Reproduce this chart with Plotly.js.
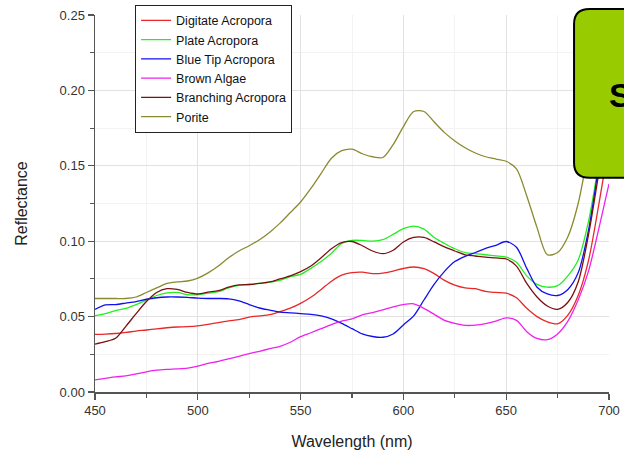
<!DOCTYPE html>
<html>
<head>
<meta charset="utf-8">
<script src="https://cdn.plot.ly/plotly-3.0.1.min.js"></script>
<style>html,body{margin:0;padding:0;background:#fff;}#chart{width:624px;height:454px;}</style>
</head>
<body>
<div id="chart"></div>
<script>
const wavelength = [450,455,460,465,470,475,480,485,490,495,500,505,510,515,520,525,530,535,540,545,550,555,560,565,570,575,580,585,590,595,600,605,610,615,620,625,630,635,640,645,650,655,660,665,670,675,680,685,690,695,700];

const digitateAcropora = [0.0382,0.0384,0.0388,0.0395,0.0404,0.0411,0.0419,0.0426,0.0431,0.0433,0.0438,0.0448,0.046,0.0472,0.048,0.0497,0.0505,0.0513,0.0533,0.0556,0.0588,0.0628,0.068,0.0735,0.0775,0.0792,0.0795,0.0785,0.0788,0.0802,0.0819,0.0829,0.0818,0.0785,0.074,0.0708,0.069,0.0685,0.0667,0.066,0.0655,0.0625,0.0555,0.050,0.0465,0.0452,0.051,0.064,0.087,0.124,0.165];

const plateAcropora = [0.0506,0.052,0.054,0.0555,0.058,0.061,0.064,0.0658,0.066,0.0645,0.0645,0.0655,0.0665,0.069,0.0707,0.0713,0.072,0.0728,0.074,0.0765,0.078,0.082,0.0865,0.092,0.0985,0.1005,0.1005,0.100,0.101,0.1045,0.1083,0.110,0.108,0.1025,0.0985,0.095,0.0925,0.0918,0.091,0.0903,0.0895,0.086,0.077,0.0714,0.0695,0.0705,0.077,0.0875,0.113,0.152,0.20];

const blueTipAcropora = [0.0548,0.0577,0.058,0.059,0.060,0.0615,0.0625,0.063,0.063,0.0628,0.0622,0.062,0.062,0.0618,0.0605,0.058,0.0557,0.0543,0.053,0.0525,0.052,0.0515,0.0505,0.0485,0.0455,0.042,0.0385,0.0368,0.0363,0.0385,0.0445,0.0505,0.061,0.0715,0.080,0.0865,0.090,0.0925,0.0952,0.0973,0.0998,0.096,0.082,0.0695,0.065,0.064,0.068,0.079,0.107,0.15,0.20];

const brownAlgae = [0.008,0.009,0.010,0.0107,0.012,0.0134,0.0145,0.015,0.0153,0.0158,0.0172,0.019,0.0203,0.022,0.0237,0.0254,0.027,0.0287,0.0303,0.033,0.0367,0.0393,0.042,0.0447,0.047,0.0485,0.0512,0.0527,0.0545,0.0565,0.058,0.0585,0.0555,0.0515,0.0475,0.0455,0.0442,0.0443,0.0453,0.047,0.0491,0.0475,0.040,0.0355,0.0347,0.0385,0.047,0.061,0.080,0.108,0.138];

const branchingAcropora = [0.0318,0.0334,0.0356,0.0435,0.052,0.060,0.066,0.0685,0.068,0.066,0.065,0.0662,0.0672,0.0695,0.071,0.0713,0.072,0.073,0.075,0.077,0.0798,0.0835,0.089,0.095,0.099,0.0998,0.097,0.0935,0.0917,0.094,0.0995,0.1025,0.1025,0.0995,0.0962,0.0935,0.091,0.0902,0.0894,0.0889,0.0882,0.0835,0.072,0.063,0.057,0.0548,0.0595,0.073,0.104,0.145,0.19];

const porite = [0.062,0.062,0.062,0.062,0.063,0.066,0.069,0.072,0.073,0.0736,0.0755,0.079,0.0836,0.089,0.0935,0.097,0.101,0.106,0.112,0.119,0.126,0.135,0.145,0.155,0.160,0.161,0.158,0.156,0.1555,0.164,0.176,0.186,0.186,0.179,0.172,0.1665,0.162,0.1585,0.156,0.1545,0.153,0.148,0.130,0.109,0.091,0.0925,0.103,0.125,0.160,0.195,0.230];

const seriesNames = ["Digitate Acropora","Plate Acropora","Blue Tip Acropora","Brown Algae","Branching Acropora","Porite"];
const seriesValues = [digitateAcropora, plateAcropora, blueTipAcropora, brownAlgae, branchingAcropora, porite];
const seriesColors = ["#e82828","#22ee22","#1111ee","#ee22ee","#7a1010","#8a8a30"];

const traces = seriesNames.map((n, i) => ({
  x: wavelength, y: seriesValues[i], name: n, type: "scatter", mode: "lines",
  line: {color: seriesColors[i], width: 1.3, shape: "spline", smoothing: 0.8}
}));

const x0 = 0.932, x1 = 1.06, y0 = 0.568, y1 = 1.016, rx = 0.03, ry = 0.04;
const boxPath = `M ${x0+rx},${y1} L ${x1},${y1} L ${x1},${y0} L ${x0+rx},${y0} Q ${x0},${y0} ${x0},${y0+ry} L ${x0},${y1-ry} Q ${x0},${y1} ${x0+rx},${y1} Z`;

const axisFont = {family: "Arial, Liberation Sans, sans-serif", size: 13, color: "#333"};
const layout = {
  width: 624, height: 454,
  margin: {l: 95, r: 15, t: 15, b: 62, autoexpand: false},
  paper_bgcolor: "#fff", plot_bgcolor: "#fff",
  showlegend: true,
  legend: {x: 0.078, y: 1.027, xanchor: "left", yanchor: "top", bgcolor: "#fff",
           bordercolor: "#222", borderwidth: 1,
           font: {family: "Arial, Liberation Sans, sans-serif", size: 12.5, color: "#111"},
           tracegroupgap: 0},
  xaxis: {range: [450, 700], dtick: 50, tick0: 450, ticks: "outside", ticklen: 6, tickwidth: 1.2,
          tickcolor: "#555", showline: true, linecolor: "#555", linewidth: 1.5,
          showgrid: true, gridcolor: "#e2e2e2", zeroline: false, tickfont: axisFont,
          minor: {dtick: 25, ticks: "outside", ticklen: 4, tickcolor: "#555", showgrid: true, gridcolor: "#f3f3f3"},
          title: {text: "Wavelength (nm)", font: {family: "Arial, Liberation Sans, sans-serif", size: 16, color: "#222"}, standoff: 18}},
  yaxis: {range: [0, 0.25], dtick: 0.05, tick0: 0, tickformat: ".2f", ticks: "outside", ticklen: 6, tickwidth: 1.2,
          tickcolor: "#555", showline: true, linecolor: "#555", linewidth: 1.5,
          showgrid: true, gridcolor: "#e2e2e2", zeroline: false, tickfont: axisFont,
          minor: {dtick: 0.025, ticks: "outside", ticklen: 4, tickcolor: "#555", showgrid: true, gridcolor: "#f3f3f3"},
          title: {text: "Reflectance", font: {family: "Arial, Liberation Sans, sans-serif", size: 16, color: "#222"}, standoff: 28}},
  shapes: [{type: "path", xref: "paper", yref: "paper", path: boxPath,
            fillcolor: "#99cc00", line: {color: "#000", width: 2}, layer: "above"}],
  annotations: [{xref: "paper", yref: "paper", x: 0.996, y: 0.788, xanchor: "left", yanchor: "middle",
                 text: "<b>S</b>", showarrow: false,
                 font: {family: "Arial, Liberation Sans, sans-serif", size: 34, color: "#000"}}]
};

Plotly.newPlot("chart", traces, layout, {displayModeBar: false, staticPlot: true});
</script>
</body>
</html>
